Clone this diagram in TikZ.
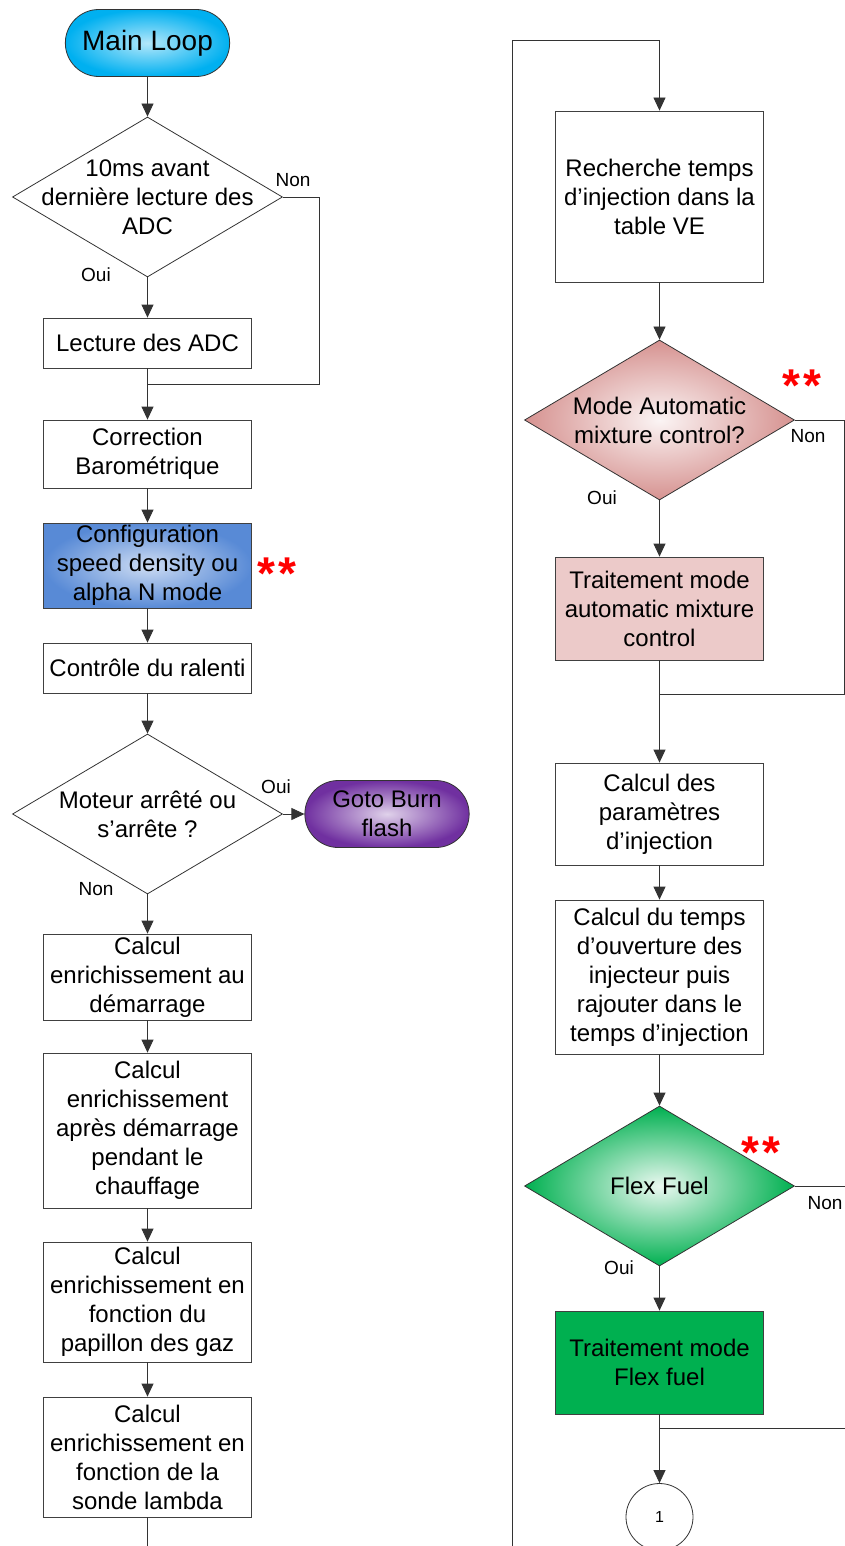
\documentclass[tikz,border=0pt]{standalone}
\usepackage{fontspec}
\setmainfont{Liberation Sans}
\usetikzlibrary{arrows.meta,shapes.geometric,shapes.misc}
\definecolor{loopblue}{RGB}{0,176,240}
\definecolor{cfgblue}{RGB}{88,138,214}
\definecolor{burnviolet}{RGB}{112,48,160}
\definecolor{amcrose}{RGB}{214,146,144}
\definecolor{amcpale}{RGB}{236,202,201}
\definecolor{flexgreen}{RGB}{0,176,80}

\begin{document}
\begin{tikzpicture}[x=1pt,y=-1pt,
  box/.style={draw=black!75,line width=0.8pt,rectangle,minimum width=208pt,align=center,inner sep=2pt,font=\fontsize{24}{29}\selectfont},
  term/.style={draw=black!80,line width=0.8pt,rounded rectangle,minimum width=171pt,minimum height=67pt,align=center,font=\fontsize{24}{29}\selectfont},
  decision/.style={draw=black!80,line width=0.8pt,diamond,inner sep=0pt,minimum width=270pt,minimum height=160pt},
  dtext/.style={align=center,font=\fontsize{24}{29}\selectfont},
  lbl/.style={font=\fontsize{19}{22}\selectfont},
  star/.style={text=red,font=\fontsize{46}{46}\selectfont\bfseries},
  line/.style={draw=black!80,line width=0.8pt},
  arr/.style={line,-{Triangle[length=13pt,width=12pt]}}]
  \clip (0,0) rectangle (845,1546);

  % left column
  \node[term,inner color=loopblue!30,outer color=loopblue,font=\fontsize{28}{32}\selectfont] (ml) at (147.5,43) {Main Loop};
  \node[decision,label={[dtext]center:{10ms avant\\dernière lecture des\\ADC}}] (d1) at (147.5,197) {};
  \node[lbl] (non1) at (293,180) {Non};
  \node[lbl] (oui1) at (96,275) {Oui};
  \node[box,minimum height=50pt] (lec) at (147.5,343) {Lecture des ADC};
  \coordinate (j1) at (147.5,384);
  \node[box,minimum height=68pt] (cor) at (147.5,454) {Correction\\Barométrique};
  \node[box,minimum height=85pt,inner color=cfgblue!30,outer color=cfgblue] (cfg) at (147.5,565.5) {Configuration\\speed density ou\\alpha N mode};
  \node[star] (st1) at (277,574) {*\hspace{4pt}*};
  \node[box,minimum height=50pt] (ral) at (147.5,668) {Contrôle du ralenti};
  \node[decision,label={[dtext]center:{Moteur arrêté ou\\s’arrête ?}}] (d2) at (147.5,814) {};
  \node[lbl] (oui2) at (276,787) {Oui};
  \node[lbl] (non2) at (96,889) {Non};
  \node[term,inner color=burnviolet!22,outer color=burnviolet] (gb) at (387,814) {Goto Burn\\flash};
  \node[box,minimum height=86pt] (dem) at (147.5,977) {Calcul\\enrichissement au\\démarrage};
  \node[box,minimum height=155pt] (apd) at (147.5,1130.5) {Calcul\\enrichissement\\après démarrage\\pendant le\\chauffage};
  \node[box,minimum height=120pt] (pap) at (147.5,1302) {Calcul\\enrichissement en\\fonction du\\papillon des gaz};
  \node[box,minimum height=120pt] (lam) at (147.5,1457) {Calcul\\enrichissement en\\fonction de la\\sonde lambda};
  \coordinate (lamend) at (147.5,1550);

  % right column
  \coordinate (rbot) at (512,1550);
  \coordinate (rtop) at (512,40);
  \node[box,minimum height=171pt] (rech) at (659.5,196.5) {Recherche temps\\d’injection dans la\\table VE};
  \node[decision,inner color=amcrose!10,outer color=amcrose,label={[dtext]center:{Mode Automatic\\mixture control?}}] (d3) at (659.5,420) {};
  \node[star] (st2) at (802,386) {*\hspace{4pt}*};
  \node[lbl] (non3) at (808,436) {Non};
  \node[lbl] (oui3) at (602,498) {Oui};
  \node[box,minimum height=103pt,fill=amcpale] (tam) at (659.5,608.5) {Traitement mode\\automatic mixture\\control};
  \coordinate (j3) at (659.5,694);
  \node[box,minimum height=102pt] (par) at (659.5,814) {Calcul des\\paramètres\\d’injection};
  \node[box,minimum height=154pt] (tps) at (659.5,977) {Calcul du temps\\d’ouverture des\\injecteur puis\\rajouter dans le\\temps d’injection};
  \node[decision,inner color=flexgreen!8,outer color=flexgreen,label={[dtext]center:{Flex Fuel}}] (d4) at (659.5,1186) {};
  \node[star] (st3) at (761,1153) {*\hspace{4pt}*};
  \node[lbl] (non4) at (825,1203) {Non};
  \node[lbl] (oui4) at (619,1268) {Oui};
  \coordinate (d4end) at (850,1186);
  \node[box,minimum height=103pt,fill=flexgreen] (tff) at (659.5,1362.5) {Traitement mode\\Flex fuel};
  \coordinate (r5) at (850,1428);
  \coordinate (j5) at (659.5,1428);
  \node[circle,draw=black!80,line width=0.8pt,minimum size=67pt,font=\fontsize{16}{18}\selectfont] (c1) at (659.5,1517) {1};

  % connectors
  \draw[arr] (ml) -- (d1);
  \draw[arr] (d1) -- (lec);
  \draw[line] (d1.east) -| (319,384) -- (j1);
  \draw[line] (lec) -- (j1);
  \draw[arr] (j1) -- (cor);
  \draw[arr] (cor) -- (cfg);
  \draw[arr] (cfg) -- (ral);
  \draw[arr] (ral) -- (d2);
  \draw[arr] (d2) -- (gb);
  \draw[arr] (d2) -- (dem);
  \draw[arr] (dem) -- (apd);
  \draw[arr] (apd) -- (pap);
  \draw[arr] (pap) -- (lam);
  \draw[line] (lam) -- (lamend);

  \draw[arr] (rbot) -- (rtop) -| (rech);
  \draw[arr] (rech) -- (d3);
  \draw[arr] (d3) -- (tam);
  \draw[line] (d3.east) -| (844,694) -- (j3);
  \draw[line] (tam) -- (j3);
  \draw[arr] (j3) -- (par);
  \draw[arr] (par) -- (tps);
  \draw[arr] (tps) -- (d4);
  \draw[arr] (d4) -- (tff);
  \draw[line] (d4.east) -- (d4end);
  \draw[line] (r5) -- (j5);
  \draw[line] (tff) -- (j5);
  \draw[arr] (j5) -- (c1);
\end{tikzpicture}
\end{document}
